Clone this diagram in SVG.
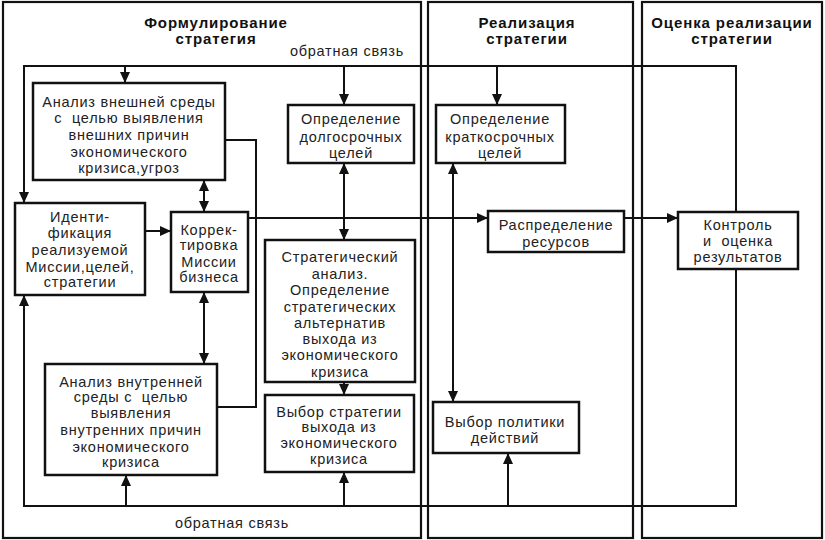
<svg xmlns="http://www.w3.org/2000/svg" width="825" height="540" viewBox="0 0 825 540">
<style>
.panel{fill:none;stroke:#111;stroke-width:2.2}
.box rect{fill:#fff;stroke:#111;stroke-width:2.5}
text{font-family:"Liberation Sans",Arial,sans-serif;font-size:14.5px;fill:#222;text-anchor:middle;letter-spacing:0.75px}
.title{font-weight:bold;font-size:15px;fill:#111;letter-spacing:0.9px}
.c{fill:none;stroke:#111;stroke-width:2}
.a{marker-end:url(#ah)}
.aa{marker-end:url(#ah);marker-start:url(#ah)}
</style>
<defs>
<marker id="ah" markerUnits="userSpaceOnUse" markerWidth="11" markerHeight="10" refX="11" refY="5" orient="auto-start-reverse" viewBox="0 0 11 10">
<path d="M0,0 L11,5 L0,10 z" fill="#111"/>
</marker>
</defs>
<rect width="825" height="540" fill="#fff"/>
<g id="panels">
<rect class="panel" x="3" y="2" width="418" height="536"/>
<rect class="panel" x="428" y="2" width="205" height="536"/>
<rect class="panel" x="642" y="2" width="180" height="536"/>
<text class="title" x="216" y="28">Формулирование</text>
<text class="title" x="216" y="44">стратегия</text>
<text class="title" x="527" y="28">Реализация</text>
<text class="title" x="527" y="44">стратегии</text>
<text class="title" x="732" y="28">Оценка реализации</text>
<text class="title" x="732" y="44">стратегии</text>
<text x="347" y="56">обратная связь</text>
<text x="232" y="528">обратная связь</text>
</g>
<g id="connectors">
<path class="c a" d="M736,212 V66 H24 V203"/>
<path class="c a" d="M125,66 V83"/>
<path class="c a" d="M344,66 V105"/>
<path class="c a" d="M497,66 V105"/>
<path class="c a" d="M736,269 V506 H24 V295"/>
<path class="c a" d="M126,506 V475"/>
<path class="c a" d="M344,506 V472"/>
<path class="c a" d="M508,506 V453"/>
<path class="c a" d="M145,231 H171"/>
<path class="c aa" d="M204,180 V212"/>
<path class="c aa" d="M204,292 V364"/>
<path class="c" d="M225,140 H256 V407 H217"/>
<path class="c a" d="M248,218 H488"/>
<path class="c a" d="M624,218 H678"/>
<path class="c aa" d="M344,163 V240"/>
<path class="c a" d="M344,382 V395"/>
<path class="c aa" d="M453,163 V402"/>
</g>
<g id="ext" class="box">
<rect x="33" y="83" width="192" height="97"/>
<text x="129" y="107">Анализ внешней среды</text>
<text x="129" y="123" xml:space="preserve">с  целью выявления</text>
<text x="129" y="140">внешних причин</text>
<text x="129" y="157">экономического</text>
<text x="129" y="173">кризиса,угроз</text>
</g>
<g id="longterm" class="box">
<rect x="288" y="105" width="126" height="58"/>
<text x="351" y="124">Определение</text>
<text x="351" y="142">долгосрочных</text>
<text x="351" y="158">целей</text>
</g>
<g id="ident" class="box">
<rect x="15" y="203" width="130" height="92"/>
<text x="80" y="222">Иденти-</text>
<text x="80" y="238">фикация</text>
<text x="80" y="255">реализуемой</text>
<text x="80" y="272">Миссии,целей,</text>
<text x="80" y="287">стратегии</text>
</g>
<g id="correct" class="box">
<rect x="171" y="212" width="77" height="80"/>
<text x="209" y="235">Коррек-</text>
<text x="209" y="250">тировка</text>
<text x="209" y="267">Миссии</text>
<text x="209" y="282">бизнеса</text>
</g>
<g id="stratan" class="box">
<rect x="265" y="240" width="150" height="142"/>
<text x="340" y="262">Стратегический</text>
<text x="340" y="279">анализ.</text>
<text x="340" y="295">Определение</text>
<text x="340" y="312">стратегических</text>
<text x="340" y="328">альтернатив</text>
<text x="340" y="344">выхода из</text>
<text x="340" y="360">экономического</text>
<text x="340" y="377">кризиса</text>
</g>
<g id="int" class="box">
<rect x="45" y="364" width="172" height="111"/>
<text x="131" y="387">Анализ внутренней</text>
<text x="131" y="402" xml:space="preserve">среды с  целью</text>
<text x="131" y="418">выявления</text>
<text x="131" y="435">внутренних причин</text>
<text x="131" y="452">экономического</text>
<text x="131" y="467">кризиса</text>
</g>
<g id="choice" class="box">
<rect x="265" y="395" width="149" height="77"/>
<text x="339" y="417">Выбор стратегии</text>
<text x="339" y="432">выхода из</text>
<text x="339" y="448">экономического</text>
<text x="339" y="464">кризиса</text>
</g>
<g id="shortterm" class="box">
<rect x="436" y="105" width="129" height="58"/>
<text x="500" y="124">Определение</text>
<text x="500" y="142">краткосрочных</text>
<text x="500" y="158">целей</text>
</g>
<g id="resources" class="box">
<rect x="488" y="211" width="136" height="41"/>
<text x="556" y="230">Распределение</text>
<text x="556" y="247">ресурсов</text>
</g>
<g id="policy" class="box">
<rect x="433" y="402" width="146" height="51"/>
<text x="505" y="427">Выбор политики</text>
<text x="505" y="443">действий</text>
</g>
<g id="control" class="box">
<rect x="678" y="212" width="120" height="57"/>
<text x="738" y="230">Контроль</text>
<text x="738" y="246" xml:space="preserve">и  оценка</text>
<text x="738" y="262">результатов</text>
</g>
</svg>
